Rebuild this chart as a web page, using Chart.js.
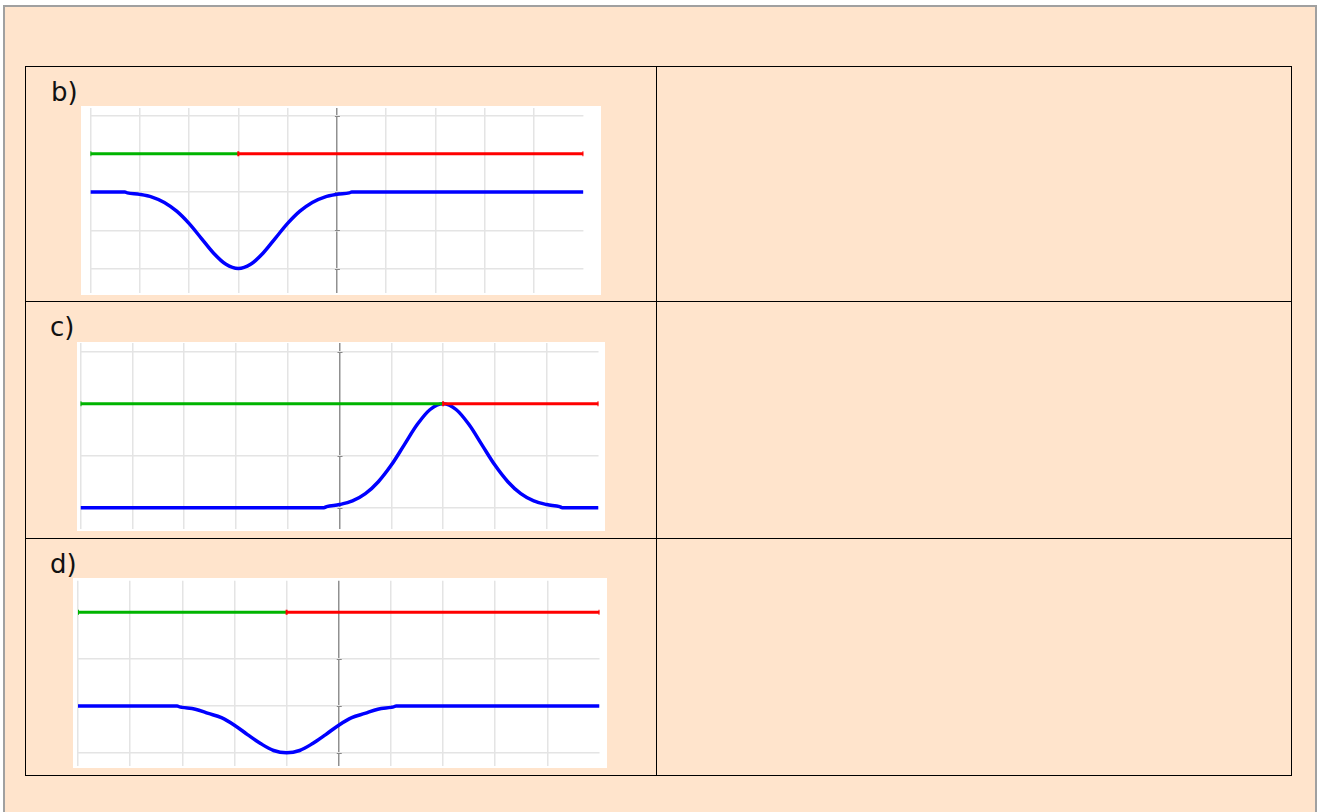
<!DOCTYPE html>
<html>
<head>
<meta charset="utf-8">
<script src="https://cdn.jsdelivr.net/npm/chart.js@4.4.1/dist/chart.umd.min.js"></script>
<style>
  body { margin: 0; background: #fff; font-family: "DejaVu Sans", Verdana, sans-serif; }
  .abs { position: absolute; }
  .page { left: 3px; top: 5px; width: 1310px; height: 820px; border: 2px solid #a0a0a0; border-bottom: none; background: #ffe4cc; }
  .tbl { left: 25px; top: 66px; width: 1265px; height: 708px; border: 1px solid #000; }
  .vline { left: 656px; top: 66px; width: 1px; height: 710px; background: #000; }
  .hline { left: 25px; width: 1267px; height: 1px; background: #000; }
  .lbl { font-size: 26px; line-height: 26px; color: #111; }
  canvas { position: absolute; background: #fff; }
</style>
</head>
<body>
<div class="abs page"></div>
<div class="abs tbl"></div>
<div class="abs vline"></div>
<div class="abs hline" style="top:301px"></div>
<div class="abs hline" style="top:538px"></div>

<div class="abs lbl" style="left:51px;top:79px">b)</div>
<div class="abs lbl" style="left:50px;top:314px">c)</div>
<div class="abs lbl" style="left:50px;top:551px">d)</div>

<canvas id="chartB" width="520" height="189" style="left:81px;top:106px"></canvas>
<canvas id="chartC" width="528" height="189" style="left:77px;top:342px"></canvas>
<canvas id="chartD" width="534" height="190" style="left:73px;top:578px"></canvas>

<script>
// x grid
const xTicks = [-5, -4, -3, -2, -1, 0, 1, 2, 3, 4, 5];

// b)
const bYTicks = [-2, -1, 0, 1, 2];
const bLevel = 1;
const bGreenX = [-5, -2];
const bRedX = [-2, 5];
const bBlueX = [-5, -4.3, -4.25, -4, -3.75, -3.5, -3.25, -3, -2.75, -2.5, -2.25, -2, -1.75, -1.5, -1.25, -1, -0.75, -0.5, -0.25, 0, 0.25, 0.3, 5];
const bBlueY = [0, 0, -0.02, -0.06, -0.13, -0.27, -0.5, -0.82, -1.21, -1.6, -1.89, -2, -1.89, -1.6, -1.21, -0.82, -0.5, -0.27, -0.13, -0.06, -0.02, 0, 0];

// c)
const cYTicks = [0, 1, 2, 3];
const cLevel = 2;
const cGreenX = [-5, 2];
const cRedX = [2, 5];
const cBlueX = [-5, -0.3, -0.25, 0, 0.25, 0.5, 0.75, 1, 1.25, 1.5, 1.75, 2, 2.25, 2.5, 2.75, 3, 3.25, 3.5, 3.75, 4, 4.25, 4.3, 5];
const cBlueY = [0, 0, 0.02, 0.06, 0.13, 0.27, 0.5, 0.82, 1.21, 1.6, 1.89, 2, 1.89, 1.6, 1.21, 0.82, 0.5, 0.27, 0.13, 0.06, 0.02, 0, 0];

// d)
const dYTicks = [-1, 0, 1, 2];
const dLevel = 2;
const dGreenX = [-5, -1];
const dRedX = [-1, 5];
const dBlueX = [-5, -3.1, -3.05, -3, -2.75, -2.5, -2.25, -2, -1.75, -1.5, -1.25, -1, -0.75, -0.5, -0.25, 0, 0.25, 0.5, 0.75, 1, 1.05, 1.1, 5];
const dBlueY = [0, 0, -0.02, -0.03, -0.07, -0.16, -0.25, -0.41, -0.61, -0.8, -0.95, -1, -0.95, -0.8, -0.61, -0.41, -0.25, -0.16, -0.07, -0.03, -0.02, 0, 0];

// small tick marks on the vertical axis (x = 0)
const axisTicks = {
    id: 'axisTicks',
    beforeDatasetsDraw(chart) {
        const { ctx, scales: { x, y } } = chart;
        const px = x.getPixelForValue(0);
        ctx.save();
        ctx.strokeStyle = '#888';
        ctx.lineWidth = 1;
        y.ticks.forEach(t => {
            const py = Math.round(y.getPixelForValue(t.value)) + 0.5;
            ctx.beginPath();
            ctx.moveTo(px - 2, py);
            ctx.lineTo(px + 3, py);
            ctx.stroke();
        });
        ctx.restore();
    }
};

function pts(xs, ys) {
    return xs.map((x, i) => ({ x: x, y: Array.isArray(ys) ? ys[i] : ys }));
}

function makeChart(id, greenX, redX, level, blueX, blueY, yTicks, yMin, yMax, pad) {
    return new Chart(document.getElementById(id), {
        type: 'scatter',
        data: {
            datasets: [{
                data: pts(redX, level),
                showLine: true,
                borderColor: '#ff0000',
                borderWidth: 3,
                pointStyle: 'line',
                rotation: 90,
                pointRadius: 2.5,
                pointBorderWidth: 2,
                pointBorderColor: '#ff0000'
            }, {
                data: pts(greenX, level),
                showLine: true,
                borderColor: '#00b400',
                borderWidth: 3,
                pointStyle: 'line',
                rotation: 90,
                pointRadius: [2.5, 0],
                pointBorderWidth: 2,
                pointBorderColor: '#00b400'
            }, {
                data: pts(blueX, blueY),
                showLine: true,
                borderColor: '#0000ff',
                borderWidth: 3.5,
                pointRadius: 0,
                cubicInterpolationMode: 'monotone'
            }]
        },
        plugins: [axisTicks],
        options: {
            responsive: false,
            animation: false,
            devicePixelRatio: 1,
            layout: { padding: pad, autoPadding: false },
            plugins: { legend: { display: false }, tooltip: { enabled: false } },
            scales: {
                x: {
                    type: 'linear',
                    min: -5,
                    max: 5,
                    ticks: { display: false },
                    border: { display: false },
                    grid: {
                        drawTicks: false,
                        lineWidth: c => c.tick.value === 0 ? 1.5 : 1.5,
                        color: c => c.tick.value === 0 ? '#909090' : (c.tick.value === 5 ? 'rgba(0,0,0,0)' : '#e4e4e4')
                    },
                    afterBuildTicks: s => { s.ticks = xTicks.map(v => ({ value: v })); },
                    afterFit: s => { s.height = 0; }
                },
                y: {
                    type: 'linear',
                    min: yMin,
                    max: yMax,
                    ticks: { display: false },
                    border: { display: false },
                    grid: { drawTicks: false, lineWidth: 1.5, color: '#e4e4e4' },
                    afterBuildTicks: s => { s.ticks = yTicks.map(v => ({ value: v })); },
                    afterFit: s => { s.width = 0; }
                }
            }
        }
    });
}

makeChart('chartB', bGreenX, bRedX, bLevel, bBlueX, bBlueY, bYTicks, -2.64, 2.2,
    { left: 9.4, right: 17.6, top: 2, bottom: 2 });
makeChart('chartC', cGreenX, cRedX, cLevel, cBlueX, cBlueY, cYTicks, -0.41, 3.17,
    { left: 3.5, right: 6.5, top: 1, bottom: 2 });
makeChart('chartD', dGreenX, dRedX, dLevel, dBlueX, dBlueY, dYTicks, -1.28, 2.67,
    { left: 5, right: 7.5, top: 2.7, bottom: 2 });
</script>
</body>
</html>
